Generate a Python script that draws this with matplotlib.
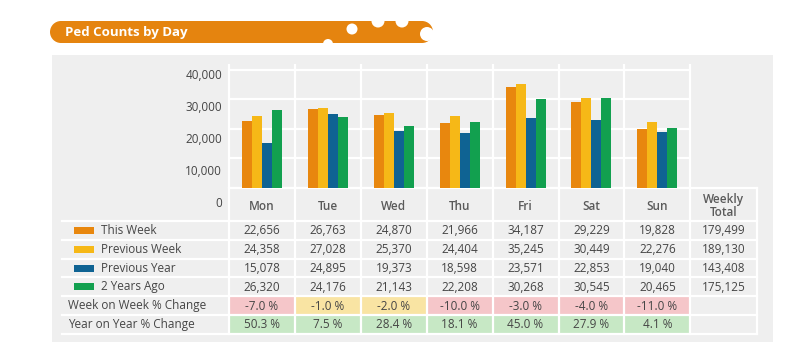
import numpy as np
import matplotlib
matplotlib.use("Agg")
import matplotlib.pyplot as plt
from matplotlib.patches import Rectangle, Circle
from matplotlib.transforms import ScaledTranslation

plt.rcParams['font.family'] = ['Open Sans', 'DejaVu Sans']

# data
days = ["Mon", "Tue", "Wed", "Thu", "Fri", "Sat", "Sun"]
series_names = ["This Week", "Previous Week", "Previous Year", "2 Years Ago"]
this_week = [22656, 26763, 24870, 21966, 34187, 29229, 19828]
prev_week = [24358, 27028, 25370, 24404, 35245, 30449, 22276]
prev_year = [15078, 24895, 19373, 18598, 23571, 22853, 19040]
two_years_ago = [26320, 24176, 21143, 22208, 30268, 30545, 20465]
weekly_total = [179499, 189130, 143408, 175125]
week_on_week = [-7.0, -1.0, -2.0, -10.0, -3.0, -4.0, -11.0]
year_on_year = [50.3, 7.5, 28.4, 18.1, 45.0, 27.9, 4.1]
y_ticks = [0, 10000, 20000, 30000, 40000]

series = [this_week, prev_week, prev_year, two_years_ago]
colors = ["#E8870E", "#F6B817", "#0F6393", "#12A04F"]
orange = "#E5840F"
panel = "#EFEFEF"
txt = "#454545"
head = "#5a5a5a"
pink, yellow, green = "#F5C6C9", "#F9E4A3", "#C7E8C5"

# layout in pixels
W, H = 800, 364
col_x0, col_w = 229, 65.9
col_x1 = col_x0 + 7 * col_w
total_x1 = 757
base_y = 188
row_top, row_h = 221, 18.8
table_bottom = row_top + 6 * row_h

fig = plt.figure(figsize=(8, 3.64), dpi=100)
bg = fig.add_axes([0, 0, 1, 1])
bg.set_xlim(0, W)
bg.set_ylim(H, 0)
bg.axis('off')

# header band
bg.add_patch(Rectangle((61, 21), 361, 22, color=orange, lw=0))
bg.add_patch(Circle((61, 32), 11, color=orange, lw=0))
bg.add_patch(Circle((422, 32), 11, color=orange, lw=0))
for cx, cy, r in [(352, 29, 5.5), (328, 44, 5), (378, 21, 6.5), (402, 21, 6.5), (427, 34, 7)]:
    bg.add_patch(Circle((cx, cy), r, color="white", lw=0, zorder=3))
bg.text(65, 32.5, "Ped Counts by Day", color="white", fontsize=9.5,
        fontweight="bold", va="center", ha="left", zorder=4)

# grey panel
bg.add_patch(Rectangle((52, 55), 721, 287, color=panel, lw=0))

# chart
ax = fig.add_axes([col_x0 / W, (H - base_y) / H, 7 * col_w / W, 130 / H])
ax.patch.set_visible(False)
x = np.arange(len(days))
bw = 10 / col_w
ax.hlines(y_ticks, -0.5, 6.5, color="white", lw=1.6, zorder=1, clip_on=False)
ax.vlines(np.arange(-0.5, 7), 0, 42000, color="white", lw=1.6, zorder=1, clip_on=False)
for i, (vals, c) in enumerate(zip(series, colors)):
    ax.bar(x + (i - 1.5) * bw, vals, bw, color=c, lw=0, zorder=3)
ax.set_xlim(-0.5, 6.5)
ax.set_ylim(0, 44000)
ax.set_xticks([])
ax.set_yticks(y_ticks)
ax.set_yticklabels([f"{v:,}" for v in y_ticks])
ax.tick_params(axis='y', length=0, pad=5, labelsize=8.5, labelcolor=txt)
for lab, v in zip(ax.get_yticklabels(), y_ticks):
    off = (14 - v / 40000 * 10) / 100
    lab.set_transform(lab.get_transform() + ScaledTranslation(0, -off, fig.dpi_scale_trans))
for s in ax.spines.values():
    s.set_visible(False)

# table
centers = [col_x0 + (j + 0.5) * col_w for j in range(7)]
for cx, d in zip(centers, days):
    bg.text(cx, 206, d, ha="center", va="center", fontsize=8.5, color=head, fontweight="semibold")
bg.text((col_x1 + total_x1) / 2, 206, "Weekly\nTotal", ha="center", va="center",
        fontsize=8.5, color=head, fontweight="semibold", linespacing=1.0)

for r, (name, vals, c, tot) in enumerate(zip(series_names, series, colors, weekly_total)):
    y = row_top + (r + 0.5) * row_h
    bg.add_patch(Rectangle((74, y - 3.5), 20, 7, color=c, lw=0))
    bg.text(101, y, name, ha="left", va="center", fontsize=8.5, color=txt)
    for cx, v in zip(centers, vals):
        bg.text(cx, y + 0.5, f"{v:,}", ha="center", va="center", fontsize=8.5, color=txt)
    bg.text((col_x1 + total_x1) / 2, y + 0.5, f"{tot:,}", ha="center", va="center",
            fontsize=8.5, color=txt)


def cell_color(v):
    if v >= 0:
        return green
    return yellow if v > -2.5 else pink


for k, (name, vals) in enumerate([("Week on Week % Change", week_on_week),
                                  ("Year on Year % Change", year_on_year)]):
    r = 4 + k
    y = row_top + (r + 0.5) * row_h
    bg.text(68, y, name, ha="left", va="center", fontsize=8.5, color=txt)
    for j, v in enumerate(vals):
        bg.add_patch(Rectangle((col_x0 + j * col_w, row_top + r * row_h), col_w, row_h,
                               color=cell_color(v), lw=0))
        bg.text(centers[j], y + 0.5, f"{v:.1f} %", ha="center", va="center",
                fontsize=8.5, color=txt)

# white table grid
for k in range(7):
    yy = row_top + k * row_h
    bg.plot([62, total_x1], [yy, yy], color="white", lw=1.6, zorder=2)
bg.plot([col_x0, total_x1], [base_y, base_y], color="white", lw=1.6, zorder=2)
for j in range(8):
    xx = col_x0 + j * col_w
    bg.plot([xx, xx], [base_y, table_bottom], color="white", lw=1.6, zorder=2)
bg.plot([total_x1, total_x1], [base_y, table_bottom], color="white", lw=1.6, zorder=2)

fig.savefig("out.png", dpi=100)
